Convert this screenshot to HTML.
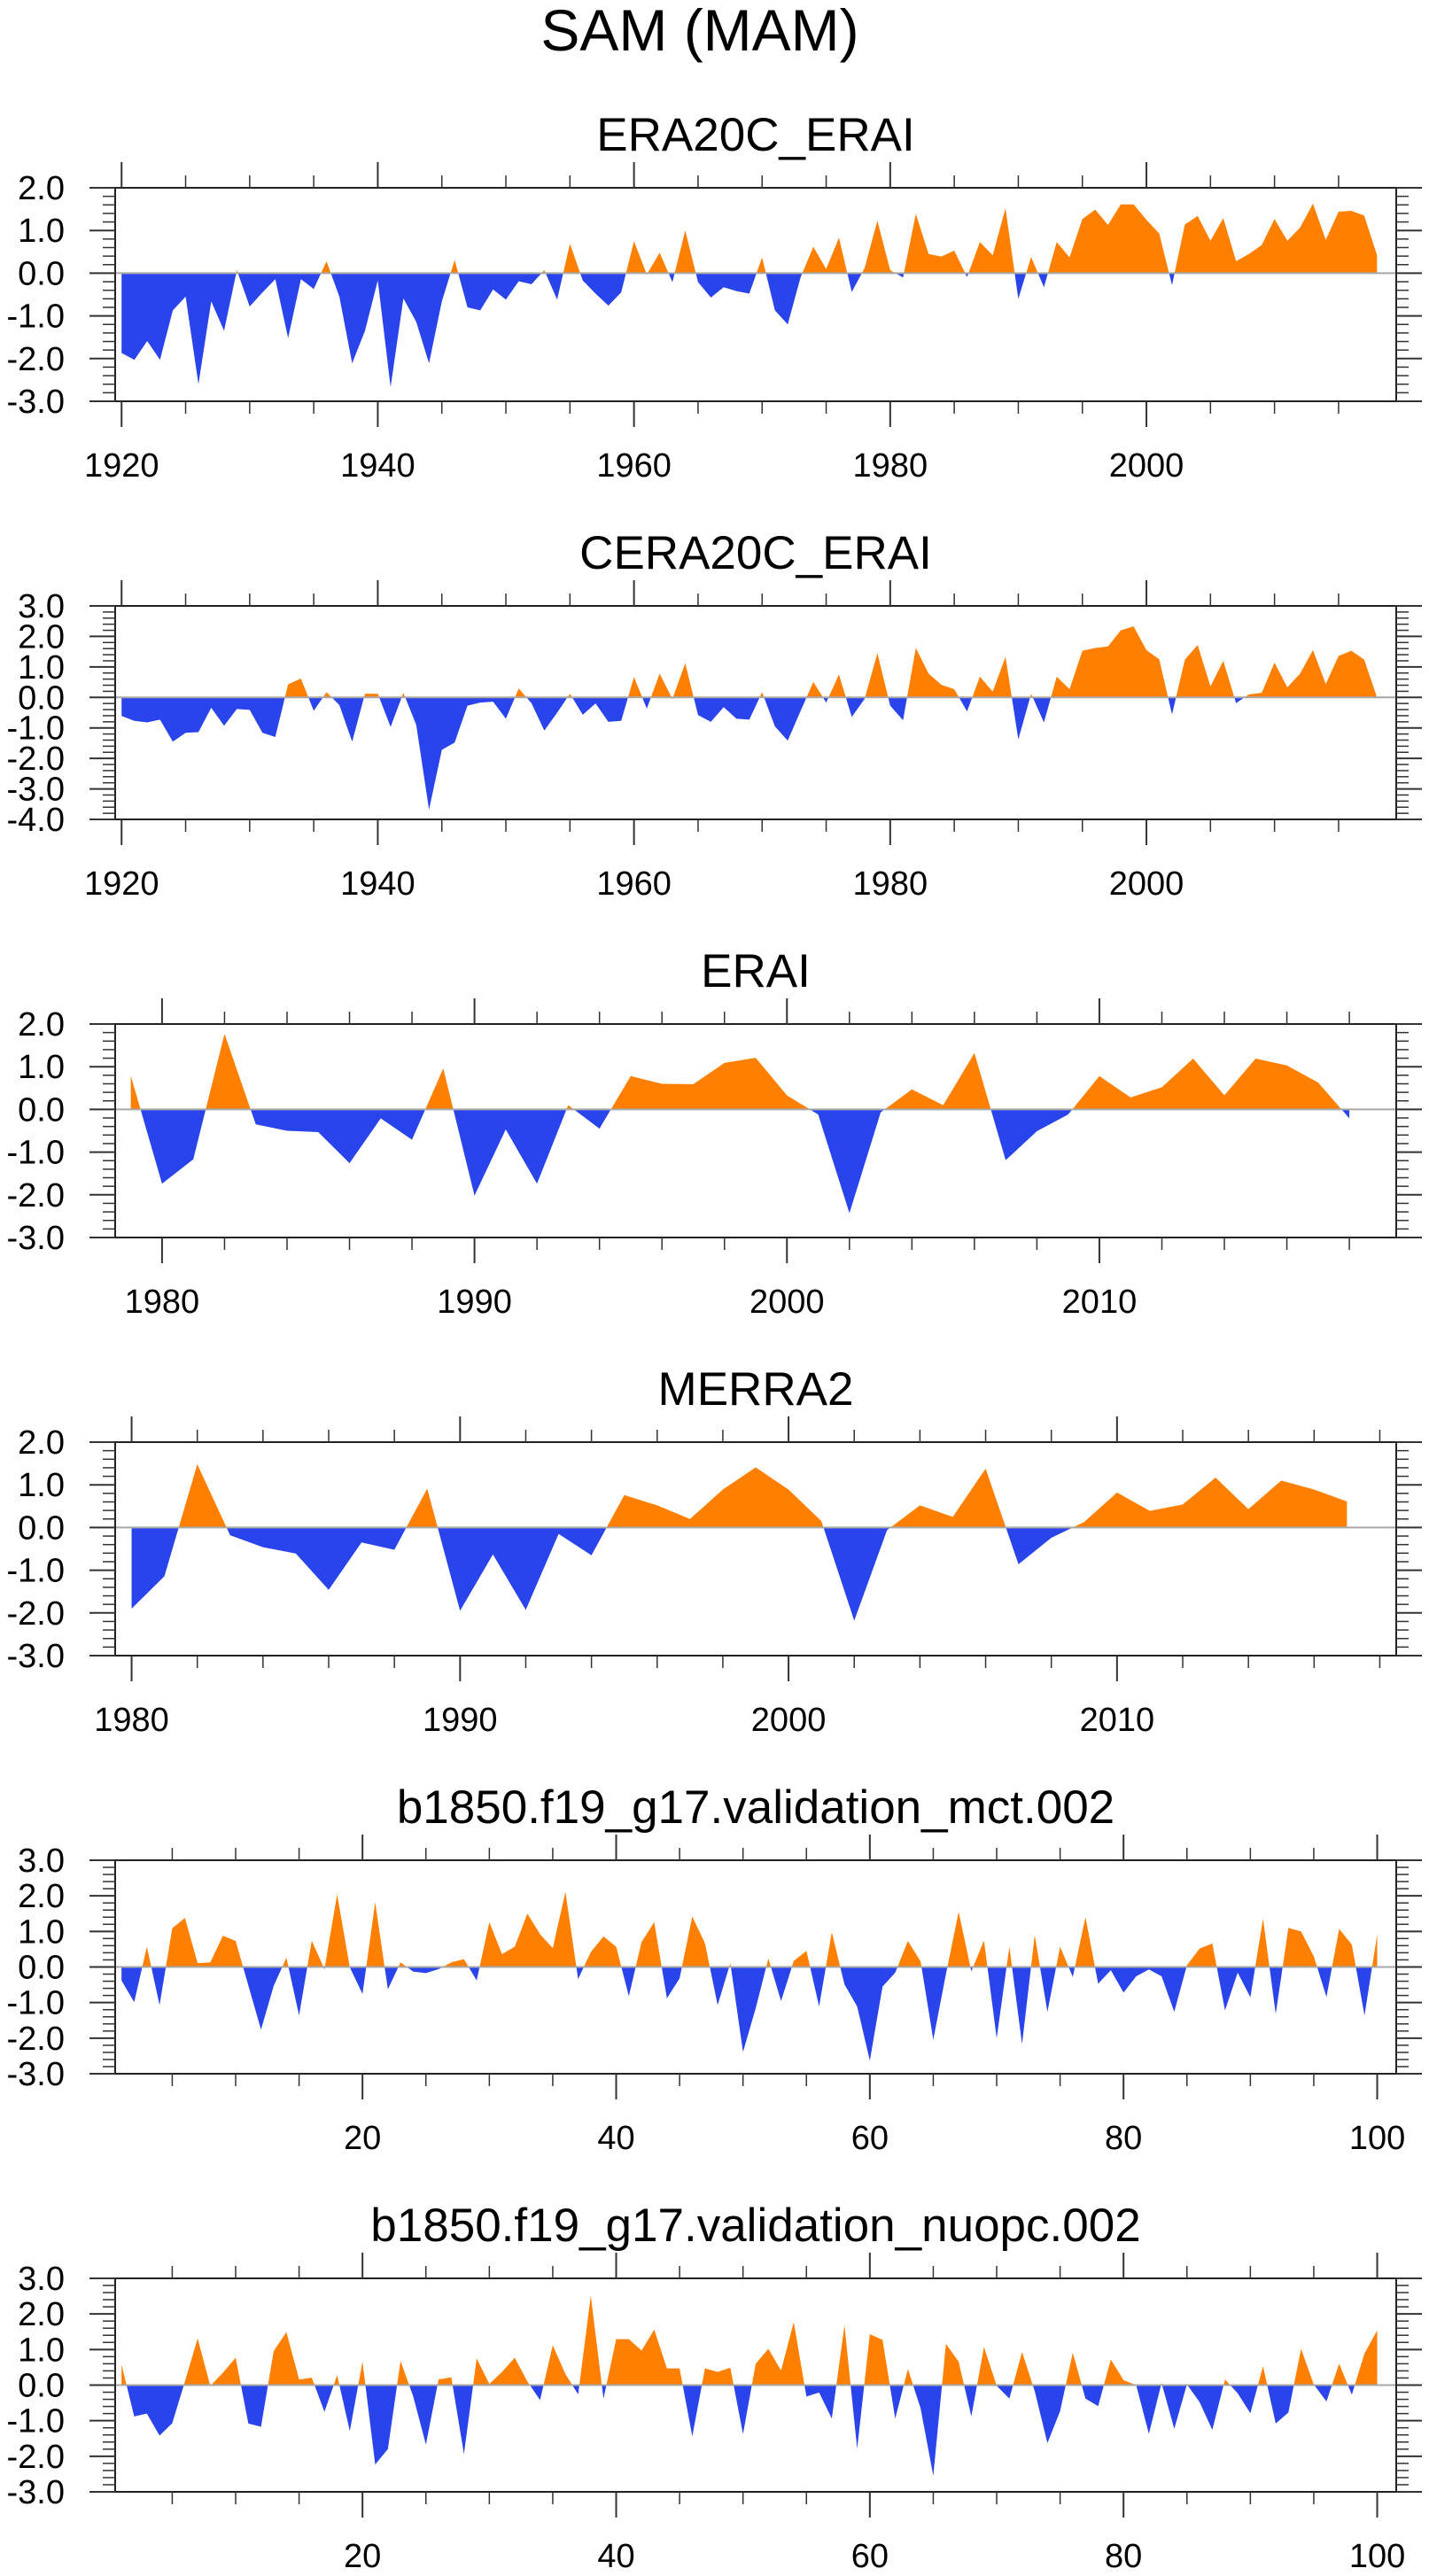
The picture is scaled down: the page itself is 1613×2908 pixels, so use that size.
<!DOCTYPE html>
<html><head><meta charset="utf-8"><style>
html,body{margin:0;padding:0;background:#fff;}
svg{display:block;}
text{font-family:"Liberation Sans",Arial,sans-serif;fill:#000;}
</style></head><body>
<svg id="fig" width="1613" height="2908" viewBox="0 0 1613 2908" xmlns="http://www.w3.org/2000/svg">
<text x="790" y="57" font-size="66" text-anchor="middle">SAM (MAM)</text>
</svg>
<script>
// ---- data ----
const p1Start = 1920;
const p1Values = [-1.87,-2.03,-1.59,-2.03,-0.87,-0.55,-2.6,-0.66,-1.35,0.07,-0.78,-0.45,-0.14,-1.52,-0.14,-0.37,0.28,-0.55,-2.11,-1.35,-0.17,-2.67,-0.59,-1.14,-2.11,-0.66,0.31,-0.8,-0.87,-0.38,-0.62,-0.19,-0.26,0.07,-0.62,0.69,-0.17,-0.48,-0.76,-0.45,0.75,-0.03,0.48,-0.21,1.0,-0.21,-0.57,-0.33,-0.42,-0.48,0.37,-0.87,-1.2,-0.1,0.62,0.1,0.83,-0.44,0.12,1.23,0.07,-0.1,1.39,0.45,0.39,0.53,-0.09,0.73,0.42,1.52,-0.6,0.38,-0.33,0.73,0.37,1.27,1.49,1.13,1.61,1.61,1.25,0.93,-0.28,1.14,1.34,0.76,1.29,0.28,0.45,0.66,1.27,0.76,1.07,1.63,0.78,1.44,1.46,1.35,0.42];
const p2Start = 1920;
const p2Values = [-0.61,-0.77,-0.82,-0.73,-1.45,-1.16,-1.14,-0.34,-0.93,-0.38,-0.41,-1.16,-1.3,0.43,0.62,-0.44,0.17,-0.25,-1.45,0.12,0.12,-0.97,0.15,-0.9,-3.68,-1.72,-1.48,-0.27,-0.17,-0.14,-0.7,0.29,-0.19,-1.09,-0.5,0.12,-0.57,-0.2,-0.8,-0.77,0.67,-0.37,0.78,-0.05,1.12,-0.58,-0.8,-0.32,-0.7,-0.73,0.17,-0.95,-1.42,-0.45,0.51,-0.17,0.75,-0.64,-0.05,1.45,-0.27,-0.75,1.62,0.78,0.41,0.27,-0.46,0.68,0.19,1.33,-1.38,0.12,-0.82,0.68,0.27,1.53,1.62,1.67,2.2,2.33,1.55,1.25,-0.56,1.24,1.72,0.36,1.2,-0.19,0.1,0.15,1.14,0.33,0.78,1.55,0.44,1.36,1.53,1.24,0.0];
const p3Start = 1979;
const p3Values = [0.79,-1.74,-1.17,1.77,-0.35,-0.5,-0.53,-1.26,-0.21,-0.71,0.96,-2.02,-0.47,-1.74,0.1,-0.45,0.78,0.6,0.59,1.09,1.21,0.33,-0.12,-2.43,-0.07,0.47,0.1,1.32,-1.19,-0.51,-0.12,0.78,0.28,0.52,1.19,0.33,1.19,1.03,0.63,-0.21];
const p4Start = 1980;
const p4Values = [-1.9,-1.14,1.48,-0.18,-0.46,-0.61,-1.46,-0.35,-0.52,0.91,-1.95,-0.63,-1.93,-0.15,-0.65,0.76,0.52,0.2,0.89,1.41,0.89,0.15,-2.18,-0.06,0.52,0.25,1.38,-0.86,-0.24,0.13,0.82,0.39,0.54,1.17,0.43,1.1,0.89,0.61];
const p5Start = 1;
const p5Values = [-0.38,-0.99,0.57,-1.07,1.09,1.38,0.11,0.13,0.88,0.73,-0.52,-1.76,-0.53,0.26,-1.36,0.74,-0.06,2.04,-0.01,-0.76,1.82,-0.63,0.13,-0.13,-0.17,-0.06,0.13,0.22,-0.38,1.26,0.36,0.57,1.5,0.92,0.53,2.11,-0.34,0.42,0.86,0.57,-0.82,0.7,1.26,-0.88,-0.32,1.42,0.67,-1.07,0.11,-2.39,-1.16,0.24,-0.96,0.17,0.45,-1.11,0.98,-0.49,-1.11,-2.63,-0.55,-0.16,0.73,0.16,-2.04,-0.2,1.55,-0.12,0.74,-2.0,0.57,-2.17,0.9,-1.26,0.57,-0.28,1.4,-0.47,-0.09,-0.72,-0.26,-0.07,-0.26,-1.26,0.05,0.52,0.66,-1.22,-0.16,-0.85,1.36,-1.32,1.1,1.0,0.3,-0.84,1.07,0.63,-1.36,0.91];
const p6Start = 1;
const p6Values = [0.58,-0.88,-0.8,-1.42,-1.07,0.1,1.31,-0.02,0.35,0.77,-1.08,-1.17,0.96,1.49,0.16,0.21,-0.75,0.28,-1.29,0.66,-2.23,-1.8,0.68,-0.32,-1.67,0.16,0.22,-1.94,0.75,0.03,0.37,0.77,0.1,-0.42,1.12,0.31,-0.26,2.51,-0.38,1.29,1.29,0.97,1.56,0.47,0.47,-1.44,0.47,0.37,0.49,-1.38,0.6,1.02,0.41,1.77,-0.32,-0.21,-0.94,1.68,-1.79,1.43,1.27,-0.94,0.45,-0.65,-2.55,1.16,0.66,-0.88,1.07,-0.02,-0.38,0.93,-0.17,-1.63,-0.73,0.91,-0.38,-0.59,0.72,0.14,0.0,-1.37,0.06,-1.23,0.02,-0.48,-1.26,0.16,-0.23,-0.79,0.53,-1.08,-0.77,1.02,0.02,-0.46,0.6,-0.27,0.89,1.54];

const yLabels5 = ["2.0","1.0","0.0","-1.0","-2.0","-3.0"];
const yLabels7 = ["3.0","2.0","1.0","0.0","-1.0","-2.0","-3.0","-4.0"];
const yLabels6 = ["3.0","2.0","1.0","0.0","-1.0","-2.0","-3.0"];
const xLabelsCentury = [1920,1940,1960,1980,2000];
const xLabelsModern = [1980,1990,2000,2010];
const xLabelsModel = [20,40,60,80,100];
const panelTitles = ["ERA20C_ERAI","CERA20C_ERAI","ERAI","MERRA2","b1850.f19_g17.validation_mct.002","b1850.f19_g17.validation_nuopc.002"];

// ---- layout ----
const BOX_L = 130, BOX_R = 1576, BOX_H = 241;
const panels = [
  {top:212, start:p1Start, vals:p1Values, xmin:1919.5, xmax:2019.5, ymax:2, ymin:-3, ylab:yLabels5, xlab:xLabelsCentury, xmaj:20, xminr:5, xfirst:1920},
  {top:684, start:p2Start, vals:p2Values, xmin:1919.5, xmax:2019.5, ymax:3, ymin:-4, ylab:yLabels7, xlab:xLabelsCentury, xmaj:20, xminr:5, xfirst:1920},
  {top:1156, start:p3Start, vals:p3Values, xmin:1978.5, xmax:2019.5, ymax:2, ymin:-3, ylab:yLabels5, xlab:xLabelsModern, xmaj:10, xminr:2, xfirst:1980},
  {top:1628, start:p4Start, vals:p4Values, xmin:1979.5, xmax:2018.5, ymax:2, ymin:-3, ylab:yLabels5, xlab:xLabelsModern, xmaj:10, xminr:2, xfirst:1980},
  {top:2100, start:p5Start, vals:p5Values, xmin:0.5, xmax:101.5, ymax:3, ymin:-3, ylab:yLabels6, xlab:xLabelsModel, xmaj:20, xminr:5, xfirst:0},
  {top:2572, start:p6Start, vals:p6Values, xmin:0.5, xmax:101.5, ymax:3, ymin:-3, ylab:yLabels6, xlab:xLabelsModel, xmaj:20, xminr:5, xfirst:0}
];
const NS = "http://www.w3.org/2000/svg";
const svg = document.getElementById('fig');
function mk(tag, attrs, parent){
  const e = document.createElementNS(NS, tag);
  for (const k in attrs) e.setAttribute(k, attrs[k]);
  (parent||svg).appendChild(e);
  return e;
}
panels.forEach((p, pi) => {
  const top = p.top, bot = top + BOX_H;
  const xs = v => BOX_L + (v - p.xmin) / (p.xmax - p.xmin) * (BOX_R - BOX_L);
  const ys = v => top + (p.ymax - v) / (p.ymax - p.ymin) * BOX_H;
  const g = mk('g', {});
  
  

  const t = mk('text', {x:(BOX_L+BOX_R)/2, y:top-42, 'font-size':53, 'text-anchor':'middle'}, g);
  t.textContent = panelTitles[pi];
  
  

  // clip paths
  const y0 = ys(0);
  const cpA = mk('clipPath', {id:'ca'+pi}, g);
  mk('rect', {x:BOX_L, y:top, width:BOX_R-BOX_L, height:y0-top}, cpA);
  const cpB = mk('clipPath', {id:'cb'+pi}, g);
  mk('rect', {x:BOX_L, y:y0, width:BOX_R-BOX_L, height:bot-y0}, cpB);

  let pts = [];
  const xFirst = xs(p.start), xLast = xs(p.start + p.vals.length - 1);
  pts.push(xFirst + ',' + y0);
  p.vals.forEach((v, i) => pts.push(xs(p.start + i).toFixed(2) + ',' + ys(v).toFixed(2)));
  pts.push(xLast + ',' + y0);
  const pos = mk('polygon', {points:pts.join(' '), fill:'#ff8000', 'clip-path':'url(#ca'+pi+')'}, g);
  
  
  const neg = mk('polygon', {points:pts.join(' '), fill:'#2a44ec', 'clip-path':'url(#cb'+pi+')'}, g);
  
  

  const zl = mk('line', {x1:BOX_L, x2:BOX_R, y1:y0, y2:y0, stroke:'#a8a8a8', 'stroke-width':2}, g);
  
  

  const box = mk('rect', {x:BOX_L, y:top, width:BOX_R-BOX_L, height:BOX_H, fill:'none', stroke:'#222', 'stroke-width':2}, g);
  
  

  // y ticks
  for (let k = Math.round(p.ymin*5); k <= Math.round(p.ymax*5); k++) {
    const v = k/5, yy = ys(v), major = (k % 5 === 0);
    const L = major ? 29 : 14;
    mk('line', {x1:BOX_L-L, x2:BOX_L, y1:yy, y2:yy, stroke:'#333', 'stroke-width':major?2:1.5}, g);
    mk('line', {x1:BOX_R, x2:BOX_R+L, y1:yy, y2:yy, stroke:'#333', 'stroke-width':major?2:1.5}, g);
  }
  p.ylab.forEach((s) => {
    const tt = mk('text', {x:73, y:ys(parseFloat(s))+13, 'font-size':38, 'text-anchor':'end'}, g);
    tt.textContent = s;
    
    
  });
  // x ticks
  const kStart = Math.ceil(p.xmin / p.xminr), kEnd = Math.floor(p.xmax / p.xminr);
  for (let k = kStart; k <= kEnd; k++) {
    const v = k * p.xminr, xx = xs(v);
    const major = ((v - p.xfirst) % p.xmaj === 0);
    const L = major ? 29 : 14;
    mk('line', {x1:xx, x2:xx, y1:bot, y2:bot+L, stroke:'#333', 'stroke-width':major?2:1.5}, g);
    mk('line', {x1:xx, x2:xx, y1:top-L, y2:top, stroke:'#333', 'stroke-width':major?2:1.5}, g);
  }
  p.xlab.forEach((v) => {
    const tt = mk('text', {x:xs(v), y:bot+85, 'font-size':38, 'text-anchor':'middle'}, g);
    tt.textContent = String(v);
    
    
  });
});
</script>
</body></html>
